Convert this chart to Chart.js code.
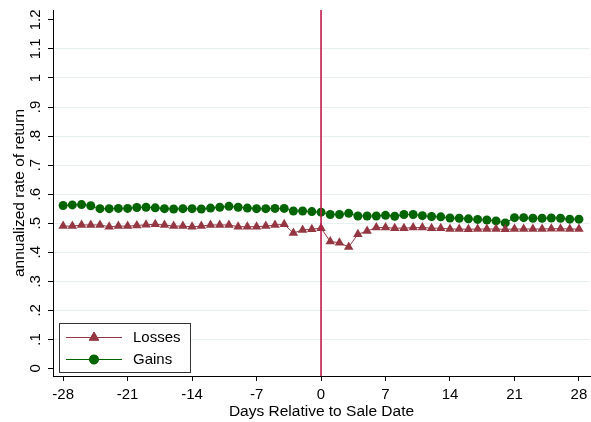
<!DOCTYPE html>
<html>
<head>
<meta charset="utf-8">
<script src="https://cdn.jsdelivr.net/npm/chart.js@4/dist/chart.umd.min.js"></script>
<style>
  html, body { margin: 0; padding: 0; background: #ffffff; }
  canvas { display: block; }
</style>
</head>
<body>
<canvas id="chart" width="591" height="422"></canvas>
<script>
// Days relative to the sale date
const days = [-28,-27,-26,-25,-24,-23,-22,-21,-20,-19,-18,-17,-16,-15,-14,-13,-12,-11,-10,-9,-8,-7,-6,-5,-4,-3,-2,-1,
              0,1,2,3,4,5,6,7,8,9,10,11,12,13,14,15,16,17,18,19,20,21,22,23,24,25,26,27,28];

// Annualized rate of return, stocks sold at a loss
const losses = [0.490,0.490,0.494,0.494,0.494,0.488,0.490,0.490,0.492,0.495,0.496,0.494,0.490,0.490,
                0.488,0.490,0.494,0.494,0.494,0.488,0.488,0.488,0.490,0.494,0.496,0.466,0.477,0.479,
                0.483,0.437,0.433,0.418,0.462,0.473,0.485,0.485,0.483,0.483,0.485,0.485,0.483,0.483,
                0.480,0.480,0.479,0.480,0.480,0.480,0.479,0.480,0.480,0.480,0.480,0.481,0.481,0.480,0.480];

// Annualized rate of return, stocks sold at a gain
const gains = [0.561,0.563,0.564,0.560,0.550,0.550,0.551,0.551,0.554,0.555,0.553,0.550,0.549,0.550,
               0.550,0.549,0.552,0.555,0.558,0.555,0.552,0.550,0.550,0.551,0.551,0.542,0.542,0.540,
               0.538,0.530,0.530,0.534,0.525,0.525,0.525,0.527,0.524,0.530,0.530,0.526,0.523,0.522,
               0.518,0.517,0.515,0.513,0.511,0.508,0.501,0.519,0.519,0.517,0.517,0.518,0.517,0.514,0.514];

const xTicks = [-28, -21, -14, -7, 0, 7, 14, 21, 28];
const yTicks = [0, 0.1, 0.2, 0.3, 0.4, 0.5, 0.6, 0.7, 0.8, 0.9, 1.0, 1.1, 1.2];
const yTickLabels = ['0', '.1', '.2', '.3', '.4', '.5', '.6', '.7', '.8', '.9', '1', '1.1', '1.2'];

const lossColor = '#943743';
const gainColor = '#006400';
const saleLineColor = '#c01a4a';
const gridColor = '#e8eff1';
const FONT = '"Liberation Sans", Arial, Helvetica, sans-serif';

const toPoints = vals => days.map((d, i) => ({ x: d, y: vals[i] }));

// Rotated y tick labels, the sale-date line and the boxed legend
const decorations = {
  id: 'decorations',
  afterDatasetsDraw(chart) {
    const { ctx, chartArea, scales: { x, y } } = chart;
    ctx.save();

    // vertical reference line at day 0
    const x0 = x.getPixelForValue(0);
    ctx.strokeStyle = saleLineColor;
    ctx.lineWidth = 1.6;
    ctx.beginPath();
    ctx.moveTo(x0, chartArea.top);
    ctx.lineTo(x0, chartArea.bottom);
    ctx.stroke();

    // y tick labels, read bottom to top
    ctx.fillStyle = '#000';
    ctx.font = '15px ' + FONT;
    ctx.textAlign = 'center';
    ctx.textBaseline = 'middle';
    yTicks.forEach((v, i) => {
      const py = y.getPixelForValue(v);
      ctx.save();
      ctx.translate(36, py);
      ctx.rotate(-Math.PI / 2);
      ctx.fillText(yTickLabels[i], 0, 0);
      ctx.restore();
    });

    // legend
    const bx = 59.5, by = 323.5, bw = 131, bh = 49;
    ctx.fillStyle = '#ffffff';
    ctx.fillRect(bx, by, bw, bh);
    ctx.strokeStyle = '#333333';
    ctx.lineWidth = 1;
    ctx.strokeRect(bx, by, bw, bh);

    const entries = [
      { label: 'Losses', color: lossColor, style: 'triangle', radius: 5.5, yy: 337 },
      { label: 'Gains', color: gainColor, style: 'circle', radius: 4.5, yy: 359 }
    ];
    entries.forEach(e => {
      ctx.strokeStyle = e.color;
      ctx.lineWidth = 1;
      ctx.beginPath();
      ctx.moveTo(66, e.yy + 0.5);
      ctx.lineTo(122, e.yy + 0.5);
      ctx.stroke();
      ctx.fillStyle = e.color;
      Chart.helpers.drawPoint(ctx, { pointStyle: e.style, radius: e.radius, borderWidth: 1 }, 94, e.yy + 0.5);
      ctx.fill();
      ctx.fillStyle = '#000';
      ctx.font = '15px ' + FONT;
      ctx.textAlign = 'left';
      ctx.textBaseline = 'middle';
      ctx.fillText(e.label, 133, e.yy + 1);
    });

    ctx.restore();
  }
};

new Chart(document.getElementById('chart'), {
  type: 'line',
  data: {
    datasets: [
      {
        label: 'Losses',
        data: toPoints(losses),
        borderColor: lossColor,
        backgroundColor: lossColor,
        borderWidth: 1,
        pointStyle: 'triangle',
        pointRadius: 5.5,
        pointBorderWidth: 0,
        pointBackgroundColor: lossColor,
        tension: 0
      },
      {
        label: 'Gains',
        data: toPoints(gains),
        borderColor: gainColor,
        backgroundColor: gainColor,
        borderWidth: 1,
        pointStyle: 'circle',
        pointRadius: 4.5,
        pointBorderWidth: 0,
        pointBackgroundColor: gainColor,
        tension: 0
      }
    ]
  },
  options: {
    responsive: false,
    animation: false,
    devicePixelRatio: 1,
    layout: { autoPadding: false, padding: { top: 10, right: 1, bottom: 0, left: 0 } },
    plugins: {
      legend: { display: false },
      tooltip: { enabled: false }
    },
    scales: {
      x: {
        type: 'linear',
        min: -29.1,
        max: 29.2,
        afterBuildTicks: s => { s.ticks = xTicks.map(v => ({ value: v })); },
        afterFit: s => { s.height = 46; s.paddingLeft = 0; s.paddingRight = 0; },
        grid: {
          drawOnChartArea: false,
          drawTicks: true,
          tickLength: 5,
          tickColor: '#000'
        },
        border: { display: true, color: '#000', width: 1 },
        ticks: {
          color: '#000',
          font: { family: FONT, size: 15 },
          padding: 5,
          maxRotation: 0,
          autoSkip: false,
          callback: v => String(v)
        },
        title: {
          display: true,
          text: 'Days Relative to Sale Date',
          color: '#000',
          font: { family: FONT, size: 15.5 },
          padding: { top: 0, bottom: 1 }
        }
      },
      y: {
        type: 'linear',
        min: -0.026,
        max: 1.234,
        afterBuildTicks: s => { s.ticks = yTicks.map(v => ({ value: v })); },
        afterFit: s => { s.width = 53; s.paddingTop = 0; s.paddingBottom = 0; },
        grid: {
          color: ctx => (ctx.tick && (ctx.tick.value === 0 || ctx.tick.value === 1.2)) ? 'rgba(0,0,0,0)' : gridColor,
          lineWidth: 1,
          drawTicks: true,
          tickLength: 5,
          tickColor: '#000'
        },
        border: { display: true, color: '#000', width: 1 },
        ticks: { display: false },
        title: {
          display: true,
          text: 'annualized rate of return',
          color: '#000',
          font: { family: FONT, size: 15.5 },
          padding: { top: 10, bottom: 0 }
        }
      }
    }
  },
  plugins: [decorations]
});
</script>
</body>
</html>
